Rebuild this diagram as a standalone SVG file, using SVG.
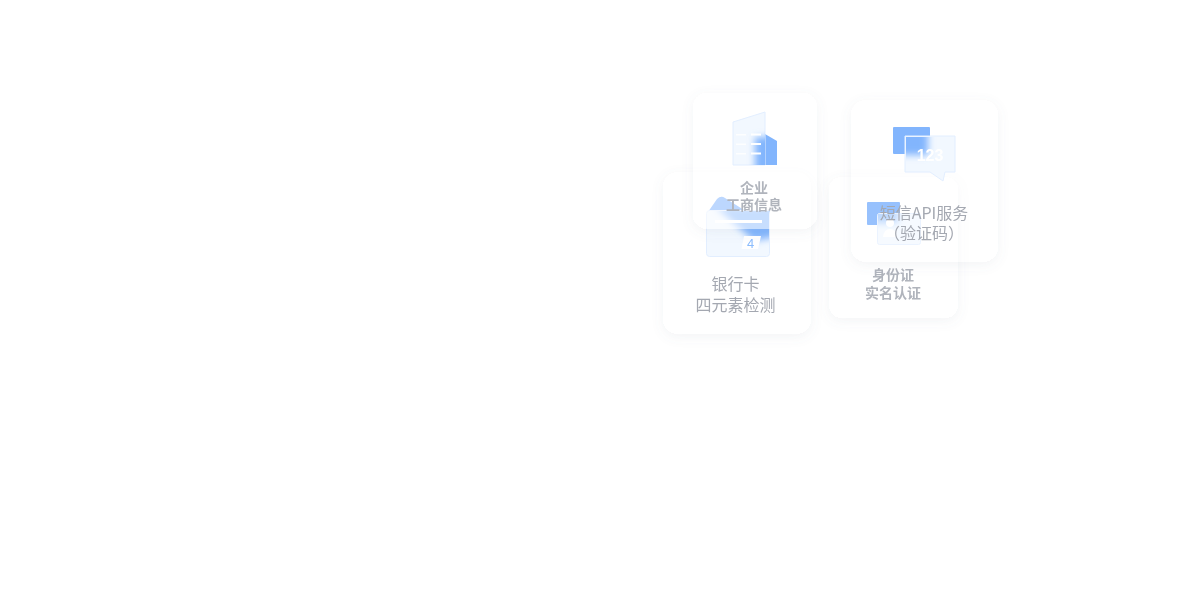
<svg xmlns="http://www.w3.org/2000/svg" width="1200" height="592" viewBox="0 0 1200 592">
<style>
.card{filter:url(#sh)}
.base{fill:#fff}
.top{fill:#fff;fill-opacity:.55}
.top2{fill:#fff;fill-opacity:.3}
.t{font-family:"Noto Sans CJK SC","Noto Sans",sans-serif;text-anchor:middle;fill:#a4a8b1}
.b{font-size:14px;font-weight:700;fill:#b0b4bc}
.m{font-size:16px}
.glass{fill:#f2f8ff;stroke:#e2eeff;stroke-width:1}
.bl{fill:#82b5fd}
.bd{fill:#6ba6fc}
.ln{fill:#fff}
.soft{filter:url(#s1)}
.sb{filter:url(#s3)}
</style>
<defs>
<filter id="sh" x="-30%" y="-30%" width="160%" height="160%">
<feColorMatrix in="SourceAlpha" type="matrix" values="0 0 0 0 0 0 0 0 0 0 0 0 0 0 0 0 0 0 100 0" result="solid"/>
<feGaussianBlur in="solid" stdDeviation="6"/>
<feOffset dy="3" result="of"/>
<feFlood flood-color="#6d7a90" flood-opacity=".08" result="c"/>
<feComposite in="c" in2="of" operator="in" result="s"/>
<feComposite in="s" in2="solid" operator="out" result="o"/>
<feMerge><feMergeNode in="o"/><feMergeNode in="SourceGraphic"/></feMerge>
</filter>
<filter id="s1" x="-10%" y="-10%" width="120%" height="120%"><feGaussianBlur stdDeviation=".4"/></filter>
<filter id="s3" x="-40%" y="-40%" width="180%" height="180%"><feGaussianBlur stdDeviation="3.500"/></filter>
<clipPath id="cb"><path d="M733 122 L765 112 V165 H733Z"/></clipPath>
<clipPath id="cc"><rect x="707" y="211" width="62" height="45"/></clipPath>
<clipPath id="cs"><rect x="906" y="137" width="48" height="34"/></clipPath>
<clipPath id="ci"><rect x="878" y="214" width="42" height="30"/></clipPath>
</defs>
<rect width="1200" height="592" fill="#fff"/>
<g id="connectors"/>
<g id="node-bank">
<rect class="card base" x="663" y="172" width="148" height="162" rx="16"/>
<g class="soft">
<path d="M708 212 L717 199 Q721 195 725 198 L744 210 L770 211 V236 L752 241 Z" class="bd"/>
<rect class="glass" x="706.500" y="210.500" width="63" height="46" rx="3"/>
<g clip-path="url(#cc)"><path class="bl sb" d="M716 207 L780 207 L780 236 L754 241Z"/></g>
<rect class="ln" x="715" y="220" width="47" height="3"/>
<path d="M744 236 H761 L758 249 H741.500Z" fill="#fff"/>
<text x="750.500" y="248" font-family="Liberation Sans,sans-serif" font-size="13" text-anchor="middle" fill="#8bbcfd">4</text>
<text class="t m" x="735.500" y="290">银行卡</text>
<text class="t m" x="735.500" y="311">四元素检测</text>
</g>
</g>
<g id="node-id">
<rect class="card base" x="829" y="177" width="129" height="141" rx="14"/>
<g class="soft">
<rect class="bd" x="867" y="202" width="33" height="23" rx="1"/>
<rect x="877.500" y="213.500" width="43" height="31" rx="2" class="glass"/>
<g clip-path="url(#ci)"><rect class="bl sb" x="870" y="206" width="28" height="17" opacity=".7"/></g>
<circle cx="890" cy="223" r="4" fill="#fff"/>
<path d="M883 237 Q884 229 890 229 Q896 229 897 237Z" fill="#fff"/>
<text class="t b" x="893" y="280">身份证</text>
<text class="t b" x="893" y="298">实名认证</text>
</g>
</g>
<g id="node-enterprise">
<rect class="card top" x="693" y="93" width="124" height="136" rx="15"/>
<g class="soft">
<path d="M765 134 L777 141 V165 H765Z" class="bl"/>
<path class="glass" d="M733 122 L765 112 V165 H733Z"/>
<g clip-path="url(#cb)"><rect class="bl sb" x="755" y="137" width="32" height="40"/></g>
<g class="ln">
<rect x="736" y="134" width="10" height="1.500" opacity=".8"/><rect x="736" y="143.500" width="10" height="1.500" opacity=".8"/><rect x="736" y="153" width="10" height="1.500" opacity=".8"/>
<rect x="751" y="133.500" width="10" height="2"/><rect x="751" y="143" width="10" height="2"/><rect x="751" y="152.500" width="10" height="2"/>
</g>
<text class="t b" x="754" y="193">企业</text>
<text class="t b" x="754" y="210">工商信息</text>
</g>
</g>
<g id="node-sms">
<rect class="card top2" x="851" y="100" width="147" height="162" rx="16"/>
<g class="soft">
<rect class="bl" x="893" y="127" width="37" height="27" rx="1"/>
<path class="glass" d="M905 136 H955 V172 H945 L943 181 L930 172 H905Z"/>
<g clip-path="url(#cs)"><rect class="bl sb" x="888" y="122" width="40" height="33"/></g>
<text x="930" y="161" font-family="Liberation Sans,sans-serif" font-size="16" font-weight="700" text-anchor="middle" fill="#fff">123</text>
<text class="t m" x="924" y="219">短信API服务</text>
<text class="t m" x="924" y="239">（验证码）</text>
</g>
</g>
</svg>
